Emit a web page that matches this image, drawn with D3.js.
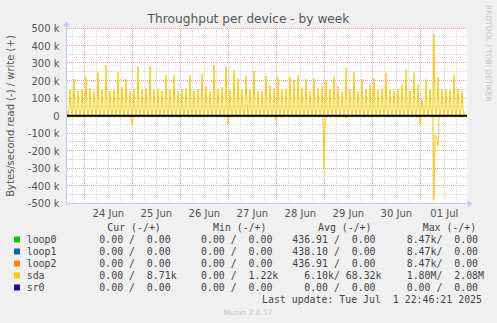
<!DOCTYPE html>
<html>
<head>
<meta charset="utf-8">
<script src="https://cdn.jsdelivr.net/npm/d3@7"></script>
<style>
body { margin: 0; background: #f0f0f0; }
svg { display: block; }
text { font-family: "DejaVu Sans", sans-serif; }
.mono { font-family: "DejaVu Sans Mono", monospace; white-space: pre; }
</style>
</head>
<body>
<svg id="chart" width="497" height="323"></svg>
<script>
let title = 'Throughput per device - by week';
let yLabel = 'Bytes/second read (-) / write (+)';
let devices = ['loop0', 'loop1', 'loop2', 'sda', 'sr0'];
let colors = ['#00cc00', '#0066b3', '#ff8000', '#ffcc00', '#330099'];
let legendHeads = ['Cur (-/+)', 'Min (-/+)', 'Avg (-/+)', 'Max (-/+)'];
let legendCur = ['0.00 /  0.00', '0.00 /  0.00', '0.00 /  0.00', '0.00 /  8.71k', '0.00 /  0.00'];
let legendMin = ['0.00 /  0.00', '0.00 /  0.00', '0.00 /  0.00', '0.00 /  1.22k', '0.00 /  0.00'];
let legendAvg = ['436.91 /  0.00', '438.10 /  0.00', '436.91 /  0.00', '  6.10k/ 68.32k', '  0.00 /  0.00'];
let legendMax = ['8.47k/  0.00', '8.47k/  0.00', '8.47k/  0.00', '1.80M/  2.08M', '0.00 /  0.00'];
let lastUpdate = 'Last update: Tue Jul  1 22:46:21 2025';
let footer = 'Munin 2.0.57';
let watermark = 'RRDTOOL / TOBI OETIKER';
let yTicks = [500000, 400000, 300000, 200000, 100000, 0, -100000, -200000, -300000, -400000, -500000];

// one sample every 30 minutes, starting 23 Jun 15:20 UTC
let halfHour = 30 * 60 * 1000;
let t0 = Date.UTC(2025, 5, 23, 15, 20);

// sda write, kB/s
let sdaWrite = [30, 6, 42,
    152, 40, 5, 48, 211, 36, 4, 42, 143, 45, 6, 38, 152, 38, 3, 50, 225, 42, 5, 40,
    158, 35, 4, 46, 143, 48, 6, 36, 250, 40, 3, 44, 152, 37, 5, 50, 291, 44, 4, 39,
    143, 38, 6, 47, 152, 46, 3, 41, 250, 39, 5, 45, 164, 43, 4, 37, 211, 36, 6, 49,
    143, 47, 3, 40, 152, 41, 5, 44, 282, 38, 4, 48, 152, 45, 6, 36, 158, 40, 3, 43,
    286, 37, 5, 47, 152, 44, 4, 39, 158, 39, 6, 45, 143, 46, 3, 41, 234, 38, 5, 48,
    152, 42, 4, 37, 234, 36, 6, 44, 143, 48, 3, 40, 152, 40, 5, 46, 158, 37, 4, 42,
    234, 45, 6, 38, 143, 39, 3, 49, 152, 43, 5, 41, 244, 38, 4, 45, 171, 46, 6, 37,
    143, 40, 3, 47, 291, 37, 5, 43, 152, 44, 4, 39, 164, 41, 6, 48, 282, 36, 3, 42,
    148, 47, 5, 38, 263, 39, 4, 45, 215, 43, 6, 40, 152, 38, 3, 46, 229, 70, 5, 41,
    152, 40, 4, 44, 257, 37, 6, 48, 143, 45, 3, 39, 143, 42, 5, 43, 229, 38, 4, 47,
    177, 46, 6, 37, 158, 40, 3, 44, 225, 37, 5, 49, 152, 44, 4, 40, 158, 39, 6, 45,
    225, 47, 3, 38, 206, 41, 5, 43, 234, 36, 4, 48, 158, 45, 6, 39, 211, 38, 3, 44,
    143, 43, 5, 41, 215, 40, 4, 47, 158, 46, 6, 37, 171, 37, 3, 45, 206, 42, 5, 40,
    152, 39, 4, 48, 225, 45, 6, 36, 171, 38, 3, 43, 140, 47, 5, 41, 278, 40, 4, 46,
    152, 36, 6, 39, 248, 44, 3, 45, 143, 41, 5, 38, 211, 37, 4, 47, 152, 45, 6, 42,
    177, 39, 3, 44, 215, 43, 5, 37, 152, 38, 4, 48, 158, 46, 6, 40, 248, 40, 3, 43,
    152, 37, 5, 47, 143, 44, 4, 39, 152, 41, 6, 45, 183, 38, 3, 41, 263, 47, 5, 44,
    143, 40, 4, 38, 248, 36, 6, 46, 177, 45, 3, 42, 95, 39, 5, 48, 210, 43, 4, 40,
    152, 38, 6, 45, 469, 60, 5, 47, 221, 40, 3, 44, 152, 46, 5, 39, 152, 38, 4, 43,
    150, 44, 6, 41, 234, 37, 3, 46, 158, 42, 5, 40, 143, 39, 9, 20];

// sda read, kB/s (drawn below zero)
let sdaRead = [
    4, 3, 5, 6, 3, 2, 4, 6, 3, 2, 5, 6, 4, 3, 2, 5, 6, 3, 4, 5,
    3, 2, 4, 6, 5, 3, 2, 4, 6, 3, 2, 5, 6, 4, 3, 4, 5, 3, 2, 6,
    4, 3, 5, 6, 3, 2, 4, 5, 6, 3, 2, 4, 6, 4, 3, 2, 5, 6, 3, 4,
    5, 3, 2, 6, 12, 50, 10, 4, 6, 3, 2, 5, 6, 3, 4, 2, 5, 6, 3, 2,
    4, 6, 3, 2, 5, 6, 4, 3, 2, 5, 6, 3, 4, 5, 3, 2, 4, 6, 5, 3,
    2, 4, 6, 3, 2, 5, 6, 4, 3, 2, 5, 6, 3, 11, 5, 3, 2, 4, 6, 3,
    2, 5, 6, 4, 3, 2, 5, 6, 3, 4, 5, 3, 2, 6, 4, 3, 5, 6, 3, 2,
    4, 6, 3, 2, 5, 6, 4, 3, 2, 5, 6, 3, 4, 5, 3, 2, 4, 6, 5, 3,
    10, 45, 12, 3, 2, 5, 6, 4, 3, 2, 5, 6, 3, 4, 5, 3, 2, 4, 6, 3,
    2, 5, 6, 4, 3, 2, 5, 6, 3, 4, 2, 5, 6, 3, 4, 5, 3, 2, 4, 6,
    5, 3, 2, 4, 6, 3, 2, 5, 8, 28, 8, 4, 3, 2, 5, 6, 3, 4, 5, 3,
    2, 4, 6, 5, 3, 2, 4, 6, 3, 2, 5, 6, 4, 3, 2, 5, 6, 3, 4, 5,
    3, 2, 4, 6, 5, 3, 2, 4, 6, 3, 2, 5, 6, 4, 3, 2, 5, 305, 40, 20,
    6, 3, 2, 5, 6, 4, 3, 2, 5, 6, 3, 4, 5, 3, 2, 4, 6, 5, 3, 13,
    4, 6, 3, 2, 5, 6, 4, 3, 2, 5, 6, 3, 4, 5, 3, 2, 4, 6, 5, 3,
    2, 4, 6, 3, 2, 11, 6, 4, 3, 2, 5, 6, 3, 4, 5, 3, 2, 4, 6, 3,
    2, 5, 6, 4, 3, 2, 5, 6, 3, 4, 5, 3, 2, 6, 4, 3, 5, 6, 3, 2,
    4, 6, 3, 2, 5, 6, 4, 3, 2, 5, 6, 3, 4, 42, 8, 3, 2, 4, 6, 5,
    3, 2, 4, 6, 5, 3, 2, 476, 110, 120, 130, 171, 8, 4, 3, 2, 5, 6, 3, 4,
    5, 3, 2, 4, 6, 3, 2, 5, 6, 4, 3, 2, 5, 6, 3, 4, 5, 3, 2];

// the idle devices sit on zero for the whole week (first and last sample)
let idleValues = [0, 0];
let idleIndex = [0, 398];

let svg = d3.select('#chart');
let plotLeft = 67, plotRight = 467, plotTop = 29, plotBottom = 204;

let x = d3.scaleUtc()
    .domain([t0, t0 + 400 * halfHour])
    .range([plotLeft, plotRight]);
let y = d3.scaleLinear()
    .domain([-500000, 500000])
    .range([plotBottom - 0.5, plotTop - 0.5]);

let crispX = v => Math.floor(v) + 0.5;
let crispY = v => Math.round(v) - 0.5;

svg.append('rect')
    .attr('x', plotLeft).attr('y', plotTop)
    .attr('width', plotRight - plotLeft).attr('height', plotBottom - plotTop)
    .attr('fill', '#ffffff');

let grid = svg.append('g').attr('shape-rendering', 'crispEdges');

// minor grid
let hours = d3.utcHour.every(6).range(x.domain()[0], x.domain()[1]);
grid.selectAll('.vminor')
    .data(hours.filter(d => d.getUTCHours() !== 0))
    .enter().append('line')
    .attr('x1', d => crispX(x(d))).attr('x2', d => crispX(x(d)))
    .attr('y1', plotTop).attr('y2', plotBottom)
    .attr('stroke', '#d4d4d4').attr('stroke-dasharray', '1,1');
grid.selectAll('.hminor')
    .data(y.ticks(20).filter(v => v % 100000 !== 0))
    .enter().append('line')
    .attr('x1', plotLeft).attr('x2', plotRight)
    .attr('y1', d => crispY(y(d))).attr('y2', d => crispY(y(d)))
    .attr('stroke', '#d4d4d4').attr('stroke-dasharray', '1,1');

// major grid
let days = d3.utcDay.range(x.domain()[0], x.domain()[1]);
grid.selectAll('.vmajor')
    .data(days)
    .enter().append('line')
    .attr('x1', d => crispX(x(d))).attr('x2', d => crispX(x(d)))
    .attr('y1', plotTop).attr('y2', plotBottom)
    .attr('stroke', '#e8a4a4').attr('stroke-dasharray', '1,1');
grid.selectAll('.hmajor')
    .data(yTicks)
    .enter().append('line')
    .attr('x1', plotLeft).attr('x2', plotRight)
    .attr('y1', d => crispY(y(d))).attr('y2', d => crispY(y(d)))
    .attr('stroke', '#e8a4a4').attr('stroke-dasharray', '1,1');

// axes with arrows
let axisColor = '#c8c8f4';
svg.append('line')
    .attr('x1', 66.5).attr('x2', 66.5).attr('y1', plotBottom + 1).attr('y2', 24)
    .attr('stroke', axisColor);
svg.append('path')
    .attr('d', 'M63.5,26.5 L69.5,26.5 L66.5,21 Z')
    .attr('fill', axisColor);
svg.append('line')
    .attr('x1', 66).attr('x2', 469).attr('y1', 203.5).attr('y2', 203.5)
    .attr('stroke', axisColor);
svg.append('path')
    .attr('d', 'M467.5,200.5 L467.5,206.5 L473,203.5 Z')
    .attr('fill', axisColor);

// tick labels
svg.selectAll('.ylab')
    .data(yTicks)
    .enter().append('text')
    .attr('x', 59.5).attr('y', d => y(d))
    .attr('dy', '0.36em')
    .attr('text-anchor', 'end')
    .attr('font-size', 10)
    .attr('fill', '#555')
    .text(d => d === 0 ? '0' : (d / 1000) + ' k');

let fmtDay = d3.utcFormat('%d %b');
svg.selectAll('.xlab')
    .data(days.map(d => d3.utcHour.offset(d, 12)).filter(d => x(d) < plotRight))
    .enter().append('text')
    .attr('x', d => x(d)).attr('y', 216.5)
    .attr('text-anchor', 'middle')
    .attr('font-size', 10)
    .attr('fill', '#555')
    .text(fmtDay);

// series
let timeAt = i => t0 + i * halfHour;
let line = d3.line().x(d => x(d[0])).y(d => y(d[1]));

devices.forEach((name, k) => {
    if (name === 'sda') return;
    let pts = idleIndex.map((i, j) => [timeAt(i), idleValues[j]]);
    svg.append('path')
        .attr('d', line(pts))
        .attr('fill', 'none')
        .attr('stroke', colors[k]);
});

let writePts = sdaWrite.map((v, i) => [timeAt(i), v * 1000]);
let readPts = sdaRead.map((v, i) => [timeAt(i), -v * 1000]);
[writePts, readPts].forEach(pts => {
    svg.append('path')
        .attr('d', line(pts))
        .attr('fill', 'none')
        .attr('stroke', colors[3])
        .attr('stroke-width', 1);
});

// zero rule
svg.append('line')
    .attr('x1', plotLeft).attr('x2', plotRight)
    .attr('y1', y(0) - 0.3).attr('y2', y(0) - 0.3)
    .attr('stroke', '#000').attr('stroke-width', 2);

// titles
svg.append('text')
    .attr('x', 248.5).attr('y', 23)
    .attr('text-anchor', 'middle')
    .attr('font-size', 12.2)
    .attr('fill', '#555')
    .text(title);

svg.append('text')
    .attr('transform', 'translate(14,116) rotate(-90)')
    .attr('text-anchor', 'middle')
    .attr('font-size', 10)
    .attr('fill', '#555')
    .text(yLabel);

svg.append('text')
    .attr('transform', 'translate(485.5,5) rotate(90)')
    .attr('font-size', 7.5)
    .attr('fill', '#c4c4c4')
    .text(watermark);

// legend
let legend = svg.append('g').attr('font-size', 9.9).attr('fill', '#444');
let headX = [107.3, 213, 318, 422.7];
legendHeads.forEach((h, i) => {
    legend.append('text').attr('class', 'mono')
        .attr('x', headX[i]).attr('y', 231)
        .text(h);
});
let colX = [99.3, 201, 292.3, 406.7];
let cols = [legendCur, legendMin, legendAvg, legendMax];
devices.forEach((name, k) => {
    let base = 243 + k * 12;
    legend.append('rect')
        .attr('x', 14).attr('y', base - 6.5)
        .attr('width', 6).attr('height', 6)
        .attr('fill', colors[k]);
    legend.append('text').attr('class', 'mono')
        .attr('x', 26.7).attr('y', base)
        .text(name);
    cols.forEach((col, c) => {
        legend.append('text').attr('class', 'mono')
            .attr('x', colX[c]).attr('y', base)
            .text(col[k]);
    });
});
legend.append('text').attr('class', 'mono')
    .attr('x', 482).attr('y', 303)
    .attr('text-anchor', 'end')
    .text(lastUpdate);

svg.append('text')
    .attr('x', 248).attr('y', 314.5)
    .attr('text-anchor', 'middle')
    .attr('font-size', 7.5)
    .attr('fill', '#c4c4c4')
    .text(footer);
</script>
</body>
</html>
